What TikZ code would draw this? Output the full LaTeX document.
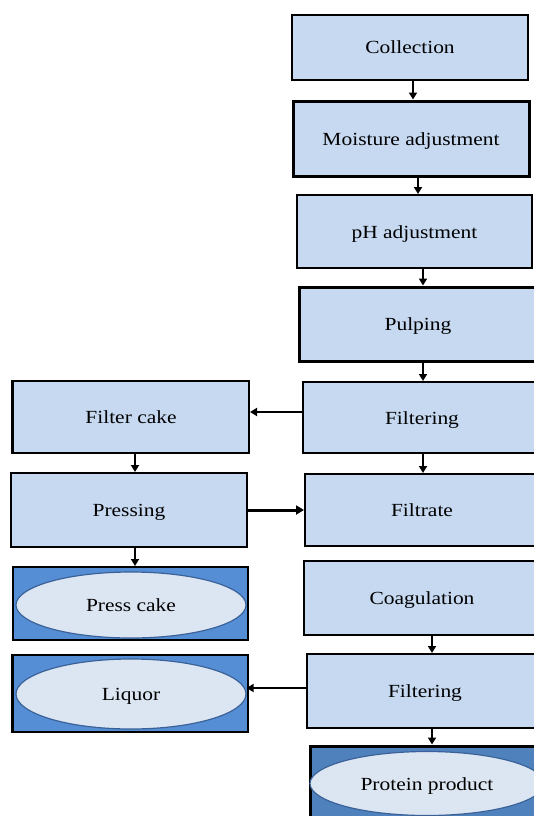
\documentclass[tikz,border=0pt]{standalone}
\usepackage{fontspec}
\setmainfont{Liberation Serif}[FakeStretch=1.16]
\usetikzlibrary{arrows.meta,shapes.geometric,calc}
\definecolor{boxfill}{HTML}{C6D9F1}
\definecolor{darkfill}{HTML}{558ED5}
\definecolor{darkfillb}{HTML}{4F81BD}
\definecolor{ellfill}{HTML}{DCE6F2}
\definecolor{elldraw}{HTML}{3A6298}
\begin{document}
\begin{tikzpicture}[x=1pt,y=-1pt,
  every node/.style={font=\fontsize{18.5}{20}\selectfont,text height=13pt,text depth=0pt},
  procbox/.style={draw=black,line width=2pt,fill=boxfill,rectangle,inner sep=0pt},
  thickbox/.style={procbox,line width=3pt},
  outbox/.style={draw=black,line width=2pt,fill=darkfill,rectangle,inner sep=0pt},
  outell/.style={draw=elldraw,line width=1.2pt,fill=ellfill,ellipse,inner sep=0pt},
  arr/.style={line width=2pt,-{Triangle[length=7pt,width=8pt]}},
  thickarr/.style={line width=3pt,-{Triangle[length=8pt,width=9pt]}}]
\useasboundingbox (0,0) rectangle (534,816);
\begin{scope}
\clip (0,0) rectangle (534,816);
% right column
\node[procbox,minimum width=236pt,minimum height=65pt] (coll) at (410,47.5) {Collection};
\node[thickbox,minimum width=236pt,minimum height=75pt] (moist) at (411,138.5) {Moisture adjustment};
\node[procbox,minimum width=235pt,minimum height=73pt] (ph) at (414.5,231.5) {pH adjustment};
\node[thickbox,minimum width=238pt,minimum height=74pt] (pulp) at (418,324) {Pulping};
\node[procbox,minimum width=238pt,minimum height=71pt] (filt) at (422,417.5) {Filtering};
\node[procbox,minimum width=234pt,minimum height=72pt] (filtrate) at (422,510) {Filtrate};
\node[procbox,minimum width=236pt,minimum height=74pt] (coag) at (422,598) {Coagulation};
\node[procbox,minimum width=236pt,minimum height=74pt] (filtb) at (425,691) {Filtering};
\node[outbox,fill=darkfillb,line width=3pt,minimum width=236pt,minimum height=84pt] (prot) at (428,788) {};
\node[outell,minimum width=234pt,minimum height=64pt] (protell) at (427,783.5) {Protein product};
% left column
\node[procbox,minimum width=236pt,minimum height=72pt] (fcake) at (131,417) {Filter cake};
\draw[line width=3pt] (fcake.north west) -- (fcake.south west);
\node[procbox,minimum width=236pt,minimum height=74pt] (press) at (129,510) {Pressing};
\node[outbox,minimum width=235pt,minimum height=73pt] (pcake) at (130.5,603.5) {};
\node[outell,minimum width=230pt,minimum height=66pt] (pcakeell) at (131,605) {Press cake};
\node[outbox,minimum width=235pt,minimum height=77pt] (liq) at (130.5,693.5) {};
\draw[line width=3pt] (liq.north west) -- (liq.south west);
\node[outell,minimum width=230pt,minimum height=70pt] (liqell) at (131,694) {Liquor};
% connectors
\draw[arr] (coll.south -| 413,0) -- (moist.north -| 413,0);
\draw[arr] (moist.south -| 418,0) -- (ph.north -| 418,0);
\draw[arr] (ph.south -| 423,0) -- (pulp.north -| 423,0);
\draw[arr] (pulp.south -| 423,0) -- (filt.north -| 423,0);
\draw[arr] (filt.west |- 0,412) -- (fcake.east |- 0,412);
\draw[arr] (fcake.south -| 135,0) -- (press.north -| 135,0);
\draw[arr] (filt.south -| 423,0) -- (filtrate.north -| 423,0);
\draw[thickarr] (press.east |- 0,510) -- (filtrate.west |- 0,510);
\draw[arr] (press.south -| 135,0) -- (pcake.north -| 135,0);
\draw[arr] (coag.south -| 432,0) -- (filtb.north -| 432,0);
\draw[arr] (filtb.west |- 0,688) -- (liqell.east |- 0,688);
\draw[arr] (filtb.south -| 432,0) -- (prot.north -| 432,0);
\end{scope}
\end{tikzpicture}
\end{document}
